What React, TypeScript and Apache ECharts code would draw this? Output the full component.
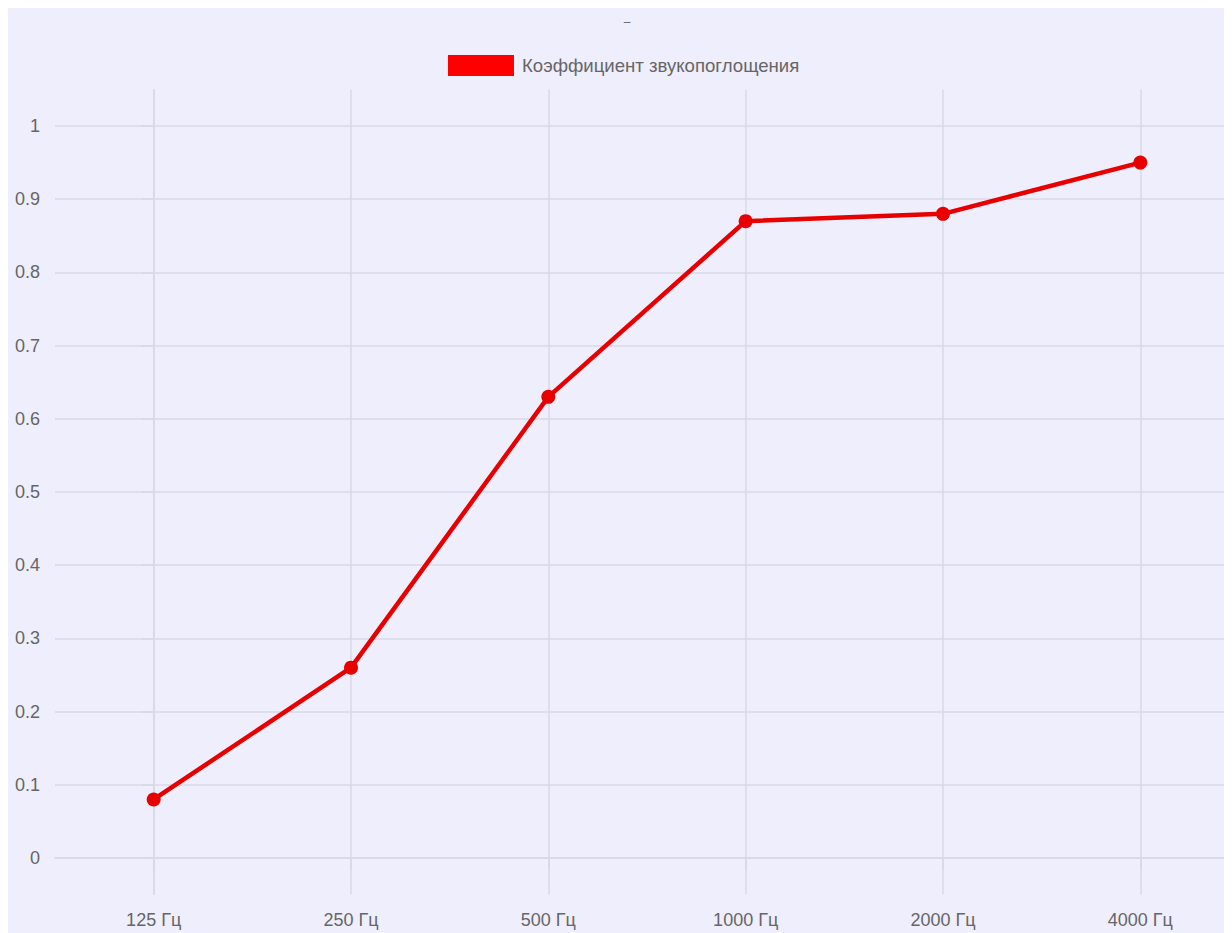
import React, { useEffect, useRef } from "react";
import * as echarts from "echarts";

const categories = ["125 Гц", "250 Гц", "500 Гц", "1000 Гц", "2000 Гц", "4000 Гц"];
const absorption = [0.08, 0.26, 0.63, 0.87, 0.88, 0.95];
const yTicks = [0, 0.1, 0.2, 0.3, 0.4, 0.5, 0.6, 0.7, 0.8, 0.9, 1];
const xTicks = [0, 1, 2, 3, 4, 5];
const seriesName = "Коэффициент звукопоглощения";

const GRID = "#d9d8e6";
const TEXT = "#666666";
const FONT = "'Liberation Sans', Arial, Helvetica, sans-serif";

export default function App() {
  const ref = useRef<HTMLDivElement>(null);
  useEffect(() => {
    document.documentElement.style.overflow = "hidden";
    document.body.style.overflow = "hidden";
    const chart = echarts.init(ref.current!, null, { renderer: "svg" });
    chart.setOption({
      animation: false,
      backgroundColor: "#efeefd",
      textStyle: { fontFamily: FONT },
      graphic: [
        {
          type: "text",
          x: 619,
          y: 14,
          style: { text: "–", fill: TEXT, fontSize: 12, fontFamily: FONT, align: "center", verticalAlign: "middle" },
        },
      ],
      legend: {
        left: 435,
        top: 42,
        itemWidth: 66,
        itemHeight: 21,
        itemGap: 10,
        icon: "rect",
        textStyle: { color: TEXT, fontSize: 18.6, fontFamily: FONT, padding: [0, 0, 0, 3] },
        data: [{ name: seriesName, itemStyle: { color: "#ff0000" } }],
      },
      grid: { left: 47, right: 0, top: 81.4, bottom: 38.4, containLabel: false },
      xAxis: {
        type: "value",
        min: -0.5,
        max: 5.5,
        axisLine: { show: true, lineStyle: { color: GRID, width: 1.5 } },
        axisTick: { show: true, length: 12, customValues: xTicks, lineStyle: { color: GRID, width: 1.5 } },
        splitLine: { show: true, lineStyle: { color: GRID, width: 1.5 } },
        axisLabel: {
          customValues: xTicks,
          margin: 16,
          color: TEXT,
          fontSize: 18,
          fontFamily: FONT,
          formatter: (v: number) => categories[Math.round(v)] ?? "",
        },
      },
      yAxis: {
        type: "value",
        min: -0.05,
        max: 1.05,
        axisLine: { show: true, lineStyle: { color: GRID, width: 1.5 } },
        axisTick: { show: true, length: 12, customValues: yTicks, lineStyle: { color: GRID, width: 1.5 } },
        splitLine: { show: true, lineStyle: { color: GRID, width: 1.5 } },
        axisLabel: {
          customValues: yTicks,
          margin: 15,
          color: TEXT,
          fontSize: 18,
          fontFamily: FONT,
          formatter: (v: number) => String(Math.round(v * 10) / 10),
        },
      },
      series: [
        {
          name: seriesName,
          type: "line",
          data: absorption.map((v, i) => [xTicks[i], v]),
          symbol: "circle",
          symbolSize: 14,
          lineStyle: { color: "#e80000", width: 4.5 },
          itemStyle: { color: "#e80000" },
        },
      ],
    });
    return () => chart.dispose();
  }, []);
  return <div ref={ref} style={{ width: 1231, height: 925 }} />;
}
